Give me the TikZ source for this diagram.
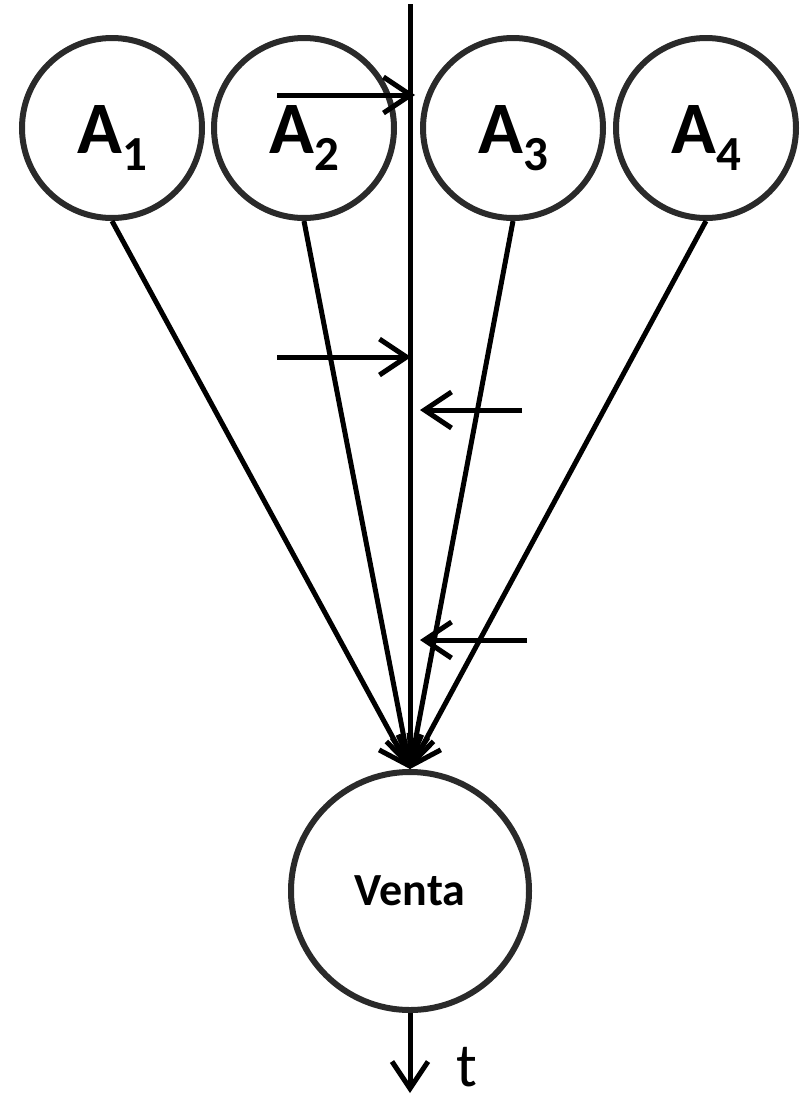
\documentclass[tikz,border=0pt]{standalone}
\usepackage{fontspec}
\setmainfont{Carlito}
\usetikzlibrary{arrows.meta}
\definecolor{ring}{HTML}{2A2A2A}
\tikzset{
  actor/.style={circle, draw=ring, line width=6pt, minimum size=180pt, inner sep=0pt,
    font=\fontsize{74}{74}\selectfont\bfseries},
  sale/.style={circle, draw=ring, line width=6pt, minimum size=238pt, inner sep=0pt,
    font=\fontsize{46}{46}\selectfont\bfseries},
  flow/.style={line width=5pt, -{Straight Barb[length=27pt,width=36pt,line width=5pt]}},
}
\newcommand{\alab}[1]{\raisebox{-25pt}[0pt][0pt]{A\raisebox{-17pt}{\fontsize{49}{49}\selectfont #1}}}
\begin{document}
\begin{tikzpicture}[x=1pt,y=-1pt]
\useasboundingbox (0,0) rectangle (802,1095);
\node[actor] (a1) at (112,128) {\alab{1}};
\node[actor] (a2) at (304,128) {\alab{2}};
\node[actor] (a3) at (513,128) {\alab{3}};
\node[actor] (a4) at (706,128) {\alab{4}};
\node[sale] (v) at (410,891) {Venta};
\coordinate (top) at (410,4);
\coordinate (out) at (410,1093);
\node[font=\fontsize{62}{62}\selectfont, anchor=base west, inner sep=0pt] (t) at (456,1086) {t};
\draw[flow] (a1.south) -- (v.north);
\draw[flow] (a2.south) -- (v.north);
\draw[flow] (a3.south) -- (v.north);
\draw[flow] (a4.south) -- (v.north);
\draw[flow] (top) -- (v.north);
\draw[flow] (v.south) -- (out);
\coordinate (h1s) at (277,95);  \coordinate (h1e) at (415,95);
\coordinate (h2s) at (277,357); \coordinate (h2e) at (411,357);
\coordinate (h3s) at (522,410); \coordinate (h3e) at (420,410);
\coordinate (h4s) at (527,640); \coordinate (h4e) at (420,640);
\draw[flow] (h1s) -- (h1e);
\draw[flow] (h2s) -- (h2e);
\draw[flow] (h3s) -- (h3e);
\draw[flow] (h4s) -- (h4e);
\end{tikzpicture}
\end{document}
